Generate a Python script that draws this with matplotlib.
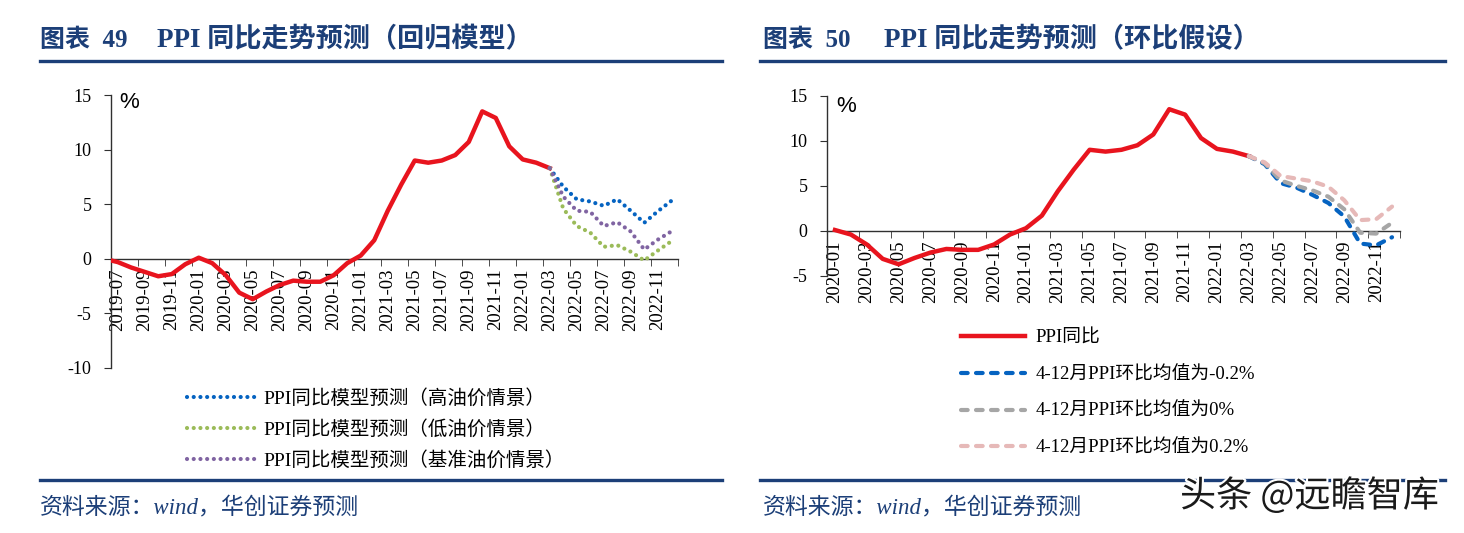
import matplotlib
matplotlib.use('Agg')
import matplotlib.pyplot as plt
from matplotlib.lines import Line2D
import matplotlib.patheffects as pe
import numpy as np
import pandas as pd

# ---------------- data ----------------
# actual PPI YoY (%) 2019-06 .. 2022-03
ppi_months = pd.period_range('2019-06', '2022-03', freq='M').strftime('%Y-%m').tolist()
ppi_yoy = [0.0, -0.3, -0.8, -1.2, -1.6, -1.4, -0.5,
           0.1, -0.4, -1.5, -3.1, -3.7, -3.0, -2.4, -2.0, -2.1, -2.1, -1.5, -0.4,
           0.3, 1.7, 4.4, 6.8, 9.0, 8.8, 9.0, 9.5, 10.7, 13.5, 12.9, 10.3,
           9.1, 8.8, 8.3]

# forecast months 2022-03 .. 2022-12
fc_months = pd.period_range('2022-03', '2022-12', freq='M').strftime('%Y-%m').tolist()

# chart 49: regression model scenarios
fc_high_oil = [8.3, 6.6, 5.45, 5.25, 4.85, 5.45, 4.4, 3.3, 4.35, 5.3]
fc_low_oil = [8.3, 4.6, 3.0, 2.4, 1.1, 1.25, 0.65, -0.15, 0.75, 1.6]
fc_base_oil = [8.3, 5.7, 4.4, 4.3, 3.0, 3.35, 2.5, 0.85, 1.75, 2.5]

# chart 50: MoM assumptions
fc_mom_m02 = [8.3, 7.4, 5.3, 4.8, 4.0, 3.1, 1.6, -1.4, -1.6, -0.7]
fc_mom_0 = [8.3, 7.5, 5.6, 5.0, 4.5, 3.8, 2.4, -0.2, -0.3, 0.9]
fc_mom_p02 = [8.3, 7.6, 6.1, 5.8, 5.5, 4.9, 3.4, 1.2, 1.3, 2.7]

# axis categories
left_cats = pd.period_range('2019-07', '2022-12', freq='M').strftime('%Y-%m').tolist()
right_cats = pd.period_range('2020-01', '2022-12', freq='M').strftime('%Y-%m').tolist()

left_labels = ['PPI同比模型预测（高油价情景）', 'PPI同比模型预测（低油价情景）',
               'PPI同比模型预测（基准油价情景）']
right_labels = ['PPI同比', '4-12月PPI环比均值为-0.2%', '4-12月PPI环比均值为0%',
                '4-12月PPI环比均值为0.2%']

title_left_num = '图表  49'
title_left_text = 'PPI 同比走势预测（回归模型）'
title_right_num = '图表  50'
title_right_text = 'PPI 同比走势预测（环比假设）'
source_text = '资料来源：wind，华创证券预测'
watermark = '头条 @远瞻智库'

# ---------------- style ----------------
W, H = 1464, 533
NAVY = '#1C3F78'
RED = '#E8141E'
BLUE = '#0563C1'
GREEN = '#9BBB59'
PURPLE = '#8064A2'
GRAY = '#A6A6A6'
PINK = '#E6B9B8'
SERIF = ['Liberation Serif', 'Noto Sans CJK SC']

plt.rcParams['font.family'] = SERIF

fig = plt.figure(figsize=(W / 100, H / 100), dpi=100)
fig.patch.set_facecolor('white')


def fx(px):
    return px / W


def fy(py):
    return 1 - py / H


def hline(x0, x1, y):
    fig.add_artist(Line2D([fx(x0), fx(x1)], [fy(y), fy(y)], color=NAVY, lw=2.4,
                          transform=fig.transFigure))


# titles and rules
for x_num, x_txt, num, txt in [(40, 157, title_left_num, title_left_text),
                               (763, 884, title_right_num, title_right_text)]:
    fig.text(fx(x_num), fy(40), num, fontsize=18, fontweight='bold', color=NAVY,
             va='center', ha='left', family=SERIF)
    fig.text(fx(x_txt), fy(40), txt, fontsize=19.5, fontweight='bold', color=NAVY,
             va='center', ha='left', family=SERIF)
hline(40, 722, 61)
hline(760, 1445, 61)
hline(40, 722, 480)
hline(760, 1445, 480)
fig.text(fx(40), fy(507), source_text, fontsize=16.5, style='italic', color=NAVY,
         va='center', ha='left', family=SERIF)
fig.text(fx(763), fy(507), source_text, fontsize=16.5, style='italic', color=NAVY,
         va='center', ha='left', family=SERIF)
fig.text(fx(1180), fy(496), watermark, fontsize=26, color='#1a1a1a',
         va='center', ha='left', family=['Noto Sans CJK SC', 'DejaVu Sans'],
         fontweight='light',
         path_effects=[pe.withStroke(linewidth=3, foreground='white')])


def style_axis(ax, cats, ymin, ymax, yticks):
    ax.set_xlim(-0.5, len(cats) - 0.5)
    ax.set_ylim(ymin, ymax)
    for s in ['top', 'right']:
        ax.spines[s].set_visible(False)
    ax.spines['bottom'].set_position(('data', 0))
    ax.spines['bottom'].set_color('#303030')
    ax.spines['left'].set_color('#303030')
    ax.spines['bottom'].set_linewidth(1.0)
    ax.spines['left'].set_linewidth(1.0)
    ax.set_yticks(yticks)
    ax.set_yticklabels([str(v) for v in yticks])
    pos = np.arange(0, len(cats), 2)
    ax.set_xticks(pos)
    ax.set_xticklabels([cats[i] for i in pos], rotation=90)
    ax.set_xticks(np.arange(-0.5, len(cats), 2), minor=True)
    ax.tick_params(axis='x', which='major', length=0, pad=7, labelsize=13.5)
    ax.tick_params(axis='x', which='minor', length=5, direction='out', color='#303030')
    ax.tick_params(axis='y', length=5, direction='out', labelsize=13, color='#303030', pad=9)
    ax.set_facecolor('none')


# ---------------- left chart ----------------
ax1 = fig.add_axes([fx(111), fy(368), fx(678 - 111), (368 - 95) / H])
style_axis(ax1, left_cats, -10, 15, [-10, -5, 0, 5, 10, 15])
x_act_l = [left_cats.index(m) if m in left_cats else -1 for m in ppi_months]
x_fc_l = [left_cats.index(m) for m in fc_months]
ax1.plot(x_act_l, ppi_yoy, color=RED, lw=3.2, solid_joinstyle='round', zorder=3)
dot = (0, (0.01, 1.6))
h_high, = ax1.plot(x_fc_l, fc_high_oil, color=BLUE, lw=3, linestyle=dot,
                   dash_capstyle='round', zorder=4)
h_low, = ax1.plot(x_fc_l, fc_low_oil, color=GREEN, lw=3, linestyle=dot,
                  dash_capstyle='round', zorder=4)
h_base, = ax1.plot(x_fc_l, fc_base_oil, color=PURPLE, lw=3, linestyle=dot,
                   dash_capstyle='round', zorder=4)
fig.text(fx(119), fy(103), '%', fontsize=16, family=['Liberation Sans'], va='center')

fig.legend([h_high, h_low, h_base], left_labels, loc='upper left',
           bbox_to_anchor=(fx(169), fy(371)), frameon=False,
           handlelength=3.6, handletextpad=0.35, labelspacing=0.63,
           prop={'family': SERIF, 'size': 14})

# ---------------- right chart ----------------
ax2 = fig.add_axes([fx(827), fy(276), fx(1400 - 827), (276 - 95.7) / H])
style_axis(ax2, right_cats, -5, 15, [-5, 0, 5, 10, 15])
x_act_r = [right_cats.index(m) for m in ppi_months if m in right_cats]
y_act_r = [v for m, v in zip(ppi_months, ppi_yoy) if m in right_cats]
x_fc_r = [right_cats.index(m) for m in fc_months]
h_red, = ax2.plot(x_act_r, y_act_r, color=RED, lw=3.2, solid_joinstyle='round', zorder=3)
dash = (0, (1.6, 2.0))
h_m02, = ax2.plot(x_fc_r, fc_mom_m02, color=BLUE, lw=3, linestyle=dash,
                  dash_capstyle='round', zorder=4)
h_0, = ax2.plot(x_fc_r, fc_mom_0, color=GRAY, lw=3, linestyle=dash,
                dash_capstyle='round', zorder=4)
h_p02, = ax2.plot(x_fc_r, fc_mom_p02, color=PINK, lw=3, linestyle=dash,
                  dash_capstyle='round', zorder=4)
fig.text(fx(836), fy(107), '%', fontsize=16, family=['Liberation Sans'], va='center')

fig.legend([h_red, h_m02, h_0, h_p02], right_labels, loc='upper left',
           bbox_to_anchor=(fx(944), fy(313)), frameon=False,
           handlelength=3.4, handletextpad=0.6, labelspacing=1.03,
           prop={'family': SERIF, 'size': 13.5})

fig.savefig('out.png', dpi=100, facecolor='white')
